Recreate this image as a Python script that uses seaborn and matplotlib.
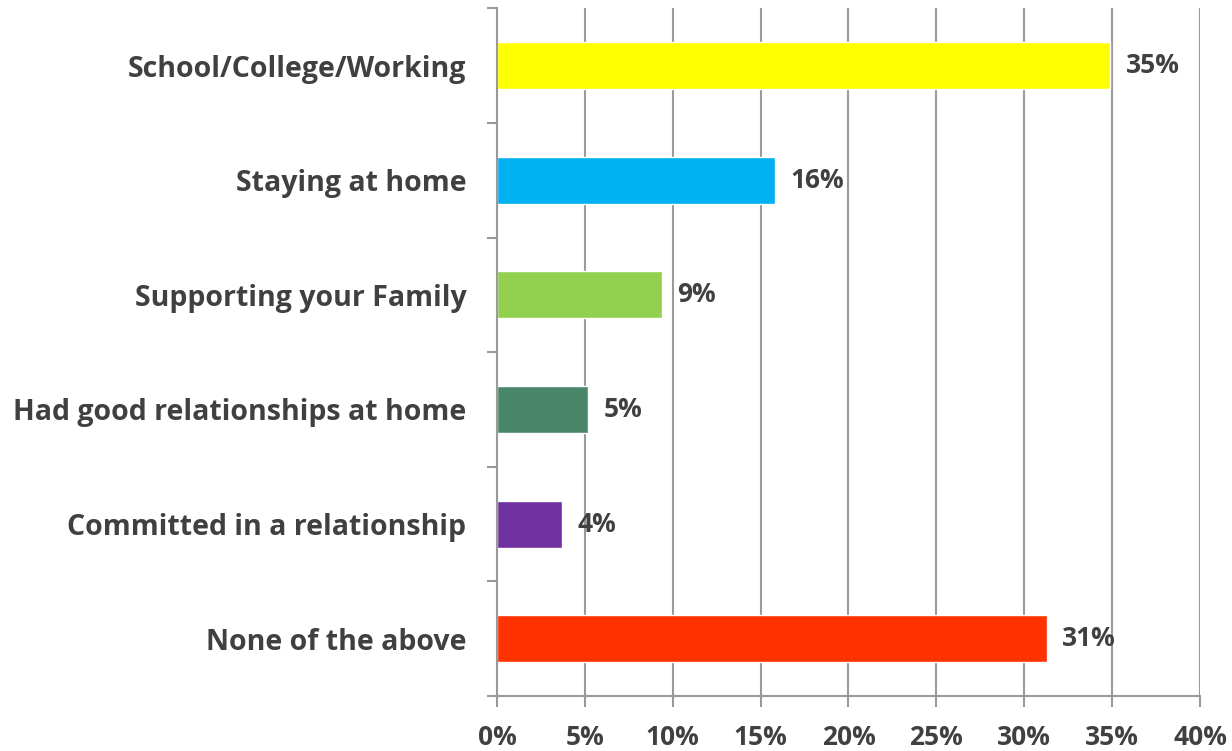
import numpy as np
import matplotlib.pyplot as plt
import pandas as pd
import seaborn as sb
from matplotlib.ticker import FuncFormatter

categories = ["School/College/Working", "Staying at home", "Supporting your Family",
              "Had good relationships at home", "Committed in a relationship", "None of the above"]
shares = [34.9, 15.8, 9.4, 5.2, 3.7, 31.3]
bar_colors = ["#FFFF00", "#00B0F0", "#92D050", "#4A866A", "#7030A0", "#FF3300"]
x_ticks = [0, 5, 10, 15, 20, 25, 30, 35, 40]

sb.set_theme(style="white")
plt.rcParams['font.family'] = ['Open Sans', 'DejaVu Sans']
text_color = "#404040"
line_color = "#9A9A9A"

df = pd.DataFrame({"Category": categories, "Share": shares})

fig = plt.figure(figsize=(12.32, 7.51), dpi=100)
ax = fig.add_axes([0.4034, 0.0732, 0.5706, 0.9158])

sb.barplot(data=df, x="Share", y="Category", hue="Category", palette=bar_colors,
           orient="h", width=0.41, legend=False, ax=ax, saturation=1)

for container in ax.containers:
    ax.bar_label(container, labels=[f"{round(v.get_width())}%" for v in container],
                 padding=11, fontsize=19, fontweight="bold", color=text_color)

ax.set_xlim(0, 40)
ax.set_ylim(len(categories) - 0.5, -0.5)
ax.set_xticks(x_ticks)
ax.xaxis.set_major_formatter(FuncFormatter(lambda v, p: f"{v:.0f}%"))
ax.grid(axis="x", color=line_color, linewidth=1.5)
ax.set_axisbelow(True)

ax.set_yticks(np.arange(-0.5, len(categories)), minor=True)
ax.tick_params(axis="y", which="major", length=0, pad=22, labelsize=20.5, labelcolor=text_color)
ax.tick_params(axis="y", which="minor", left=True, length=7, width=1.5, color=line_color)
ax.tick_params(axis="x", which="major", bottom=True, length=8, width=1.5, color=line_color,
               pad=12, labelsize=19, labelcolor=text_color)
for lab in ax.get_xticklabels() + ax.get_yticklabels():
    lab.set_fontweight("bold")

for side in ["top", "right"]:
    ax.spines[side].set_visible(False)
for side in ["left", "bottom"]:
    ax.spines[side].set_color(line_color)
    ax.spines[side].set_linewidth(1.5)

ax.set_xlabel("")
ax.set_ylabel("")

plt.savefig("out.png", dpi=100)
